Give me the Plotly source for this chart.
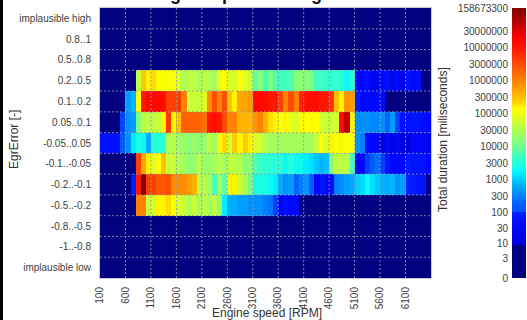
import math
import plotly.graph_objects as go

# ---------------- data ----------------
rpm_edges = list(range(100, 6700, 100))          # 65 bins of 100 RPM
rpm_ticks = [100, 600, 1100, 1600, 2100, 2600, 3100, 3600, 4100, 4600, 5100, 5600, 6100]

# categories, bottom -> top
err_cats = ["implausible low", "-1..-0.8", "-0.8..-0.5", "-0.5..-0.2", "-0.2..-0.1",
            "-0.1..-0.05", "-0.05..0.05", "0.05..0.1", "0.1..0.2", "0.2..0.5",
            "0.5..0.8", "0.8..1", "implausible high"]

Z0 = [0] * 65
row_impl_low = Z0
row_m1_m08 = Z0
row_m08_m05 = Z0
row_m05_m02 = [0, 0, 0, 0, 0, 0, 0, 1000000, 1000000, 50000, 70000, 150000, 150000, 200000, 120000,
               60000, 50000, 30000, 50000, 25000, 40000, 25000, 40000, 20000, 1500, 600, 600, 500, 500,
               400, 400, 400, 300, 250, 100, 30, 50, 40, 30, 0, 0, 0, 0, 0, 0, 0, 0, 0, 0, 0, 0, 0, 0,
               0, 0, 0, 0, 0, 0, 0, 0, 0, 0, 0, 0]
row_m02_m01 = [0, 0, 0, 0, 0, 0, 80, 10000000, 150000000, 4000000, 4000000, 2500000, 2500000, 3000000,
               800000, 800000, 800000, 600000, 400000, 40000, 35000, 25000, 6000, 20000, 8000, 150000,
               150000, 50000, 25000, 12000, 2500, 2500, 2500, 2000, 1500, 600, 400, 500, 200, 300, 400,
               150, 30, 60, 40, 40, 300, 400, 500, 600, 1000, 1200, 2000, 1200, 900, 700, 600, 700, 400,
               500, 80, 80, 60, 60, 0]
row_m01_m005 = [0, 0, 0, 0, 0, 0, 0, 4000000, 500000, 150000, 70000, 130000, 300000, 50000, 50000,
                30000, 25000, 15000, 20000, 40000, 20000, 20000, 25000, 40000, 25000, 40000, 40000,
                30000, 15000, 15000, 6000, 4000, 3500, 3500, 3000, 3000, 2000, 3000, 2000, 2000, 1500,
                1200, 900, 700, 800, 15000, 40000, 40000, 40000, 5000, 30, 40, 100, 150, 250, 100, 60,
                40, 40, 40, 80, 60, 60, 60, 40]
row_m005_005 = [50, 50, 50, 50, 150, 400, 1500, 2500, 2000, 600, 3000, 3000, 3500, 30000, 40000, 20000,
                20000, 15000, 20000, 15000, 20000, 40000, 25000, 120000, 200000, 60000, 250000, 150000,
                250000, 150000, 70000, 60000, 30000, 25000, 25000, 25000, 25000, 25000, 25000, 25000,
                25000, 25000, 50000, 120000, 70000, 150000, 120000, 150000, 120000, 120000, 400, 300,
                40, 40, 40, 12, 30, 20, 30, 12, 12, 30, 30, 30, 20]
row_005_01 = [0, 0, 0, 0, 100, 400, 500, 12000, 40000, 40000, 40000, 50000, 150000, 5000000, 150000,
              300000, 2000000, 2000000, 2000000, 2000000, 1500000, 10000000, 12000000, 10000000,
              3000000, 1000000, 1000000, 400000, 400000, 350000, 700000, 1000000, 400000, 200000,
              150000, 130000, 150000, 90000, 70000, 130000, 130000, 140000, 130000, 60000, 50000, 50000,
              60000, 15000000, 50000000, 150000, 400, 400, 400, 350, 350, 400, 200, 500, 100, 60, 60,
              60, 60, 50, 40]
row_01_02 = [0, 0, 0, 0, 0, 500, 700, 130000, 10000000, 15000000, 15000000, 15000000, 12000000,
             4000000, 4000000, 4000000, 1000000, 50000, 50000, 50000, 80000, 800000, 3000000, 1000000,
             3000000, 300000, 150000, 500000, 500000, 600000, 15000000, 15000000, 12000000, 10000000,
             10000000, 4000000, 1000000, 3000000, 1000000, 8000000, 12000000, 12000000, 12000000,
             10000000, 10000000, 5000000, 300000, 150000, 700000, 600000, 80, 40, 40, 40, 40, 40, 0, 0,
             0, 0, 0, 0, 0, 0, 0]
row_02_05 = [0, 0, 0, 0, 0, 0, 0, 40000, 250000, 150000, 200000, 130000, 130000, 120000, 120000, 60000,
             30000, 40000, 40000, 25000, 40000, 30000, 25000, 100000, 120000, 70000, 60000, 120000,
             80000, 45000, 8000, 15000, 5000, 12000, 6000, 5000, 5000, 6000, 15000, 15000, 15000, 12000,
             5000, 5000, 4000, 3500, 4000, 3000, 2000, 3000, 40, 40, 50, 20, 30, 40, 50, 20, 40, 15, 60,
             40, 50, 0, 0]
row_05_08 = Z0
row_08_1 = Z0
row_impl_high = Z0

cbar_vals = [0, 3, 10, 30, 100, 300, 1000, 3000, 10000, 30000, 100000, 300000, 1000000, 3000000,
             10000000, 30000000, 158673300]

rows = [row_impl_low, row_m1_m08, row_m08_m05, row_m05_m02, row_m02_m01, row_m01_m005, row_m005_005,
        row_005_01, row_01_02, row_02_05, row_05_08, row_08_1, row_impl_high]

# ---------------- figure ----------------
zlog = [[math.log10(v + 1) for v in r] for r in rows]
cb_log = [math.log10(v + 1) for v in cbar_vals]
zmax = cb_log[-1]

cscale = [
    [0.0, "#000080"], [0.121, "#000080"], [0.1225, "#0000d8"], [0.196, "#0008ff"],
    [0.243, "#0020ff"], [0.245, "#0050ff"], [0.28, "#0064ff"], [0.33, "#00a0ff"],
    [0.366, "#00d0ff"], [0.39, "#00f4ff"], [0.42, "#20ffe0"], [0.45, "#40ffc0"],
    [0.5, "#80ff80"], [0.565, "#c0ff40"], [0.625, "#ffff00"], [0.66, "#ffc800"],
    [0.725, "#ff8800"], [0.795, "#ff4800"], [0.86, "#ff1000"], [0.89, "#ff0000"],
    [0.94, "#c00000"], [1.0, "#800000"],
]

W, H = 527, 320
ml, mr, mt, mb = 100, 0, 8, 42
PLOT_R = 431                      # right edge of heatmap area (px)
pw, ph = W - ml - mr, H - mt - mb

def px_x(p):
    return (p - ml) / pw

def px_y(p):
    return (H - mb - p) / ph

fig = go.Figure()
fig.add_trace(go.Heatmap(
    x=rpm_edges, y=err_cats, z=zlog,
    zmin=0, zmax=zmax, colorscale=cscale,
    colorbar=dict(
        x=px_x(512), xanchor="left", xpad=0, thickness=14,
        y=0.5, yanchor="middle", len=1, lenmode="fraction", ypad=0,
        outlinewidth=0, showticklabels=False, ticks="",
    ),
    hoverinfo="skip",
))
# invisible trace so the colour-scale axis (y2) is drawn
fig.add_trace(go.Scatter(x=[rpm_edges[0]], y=[cb_log[0]], yaxis="y2", mode="markers",
                         marker=dict(opacity=0), showlegend=False, hoverinfo="skip"))

grid_style = dict(color="rgba(150,150,170,0.85)", width=1, dash="2px,2px")
shapes = []
for t in rpm_ticks[1:]:
    shapes.append(dict(type="line", xref="x", yref="paper", x0=t, x1=t, y0=0, y1=1,
                       line=grid_style, layer="above"))
for k in range(1, len(err_cats)):
    shapes.append(dict(type="line", xref="x", yref="y", x0=rpm_edges[0], x1=rpm_edges[-1],
                       y0=k - 0.5, y1=k - 0.5, line=grid_style, layer="above"))
# left black edge of the image
shapes.append(dict(type="rect", xref="paper", yref="paper", x0=px_x(0), x1=px_x(3),
                   y0=px_y(H), y1=px_y(0), line=dict(width=0), fillcolor="black", layer="above"))

tickfont = dict(family="Liberation Sans", size=10, color="#404040")
fig.update_layout(
    width=W, height=H, margin=dict(l=ml, r=mr, t=mt, b=mb, pad=0),
    paper_bgcolor="white", plot_bgcolor="#000080",
    shapes=shapes, showlegend=False,
    xaxis=dict(domain=[0, px_x(PLOT_R)], range=[rpm_edges[0], rpm_edges[-1]], tickvals=rpm_ticks,
               ticktext=[str(t) for t in rpm_ticks], tickangle=-90, showgrid=False,
               zeroline=False, tickfont=tickfont, ticks="", ticklabelstandoff=4,
               showline=True, linecolor="#c8c8d0", linewidth=1, mirror=True),
    yaxis=dict(type="category", categoryorder="array", categoryarray=err_cats,
               range=[-0.5, len(err_cats) - 0.5], showgrid=False, zeroline=False,
               tickfont=tickfont, ticks="", ticklabelstandoff=6,
               showline=True, linecolor="#c8c8d0", linewidth=1, mirror=True),
    yaxis2=dict(overlaying="y", anchor="free", position=px_x(511), side="left",
                range=[0, zmax], tickvals=cb_log, ticktext=[str(v) for v in cbar_vals],
                showgrid=False, zeroline=False, showline=False, ticks="",
                ticklabelstandoff=3, tickfont=tickfont),
    annotations=[
        dict(text="<b>Engine speed vs. EgrError</b>", xref="paper", yref="paper",
             x=px_x(260), xanchor="center", y=1, yanchor="bottom", yshift=2, showarrow=False,
             font=dict(family="Liberation Sans", size=18, color="#111111")),
        dict(text="Engine speed [RPM]", xref="paper", yref="paper", x=px_x(267), xanchor="center",
             y=px_y(313), yanchor="middle", showarrow=False,
             font=dict(family="Liberation Sans", size=12, color="#333333")),
        dict(text="EgrError [-]", xref="paper", yref="paper", x=px_x(14), xanchor="center",
             y=px_y(140), yanchor="middle", textangle=-90, showarrow=False,
             font=dict(family="Liberation Sans", size=12, color="#333333")),
        dict(text="Total duration [miliseconds]", xref="paper", yref="paper", x=px_x(443),
             xanchor="center", y=px_y(140), yanchor="middle", textangle=-90, showarrow=False,
             font=dict(family="Liberation Sans", size=12, color="#333333")),
    ],
)

fig.write_html("out.html")
